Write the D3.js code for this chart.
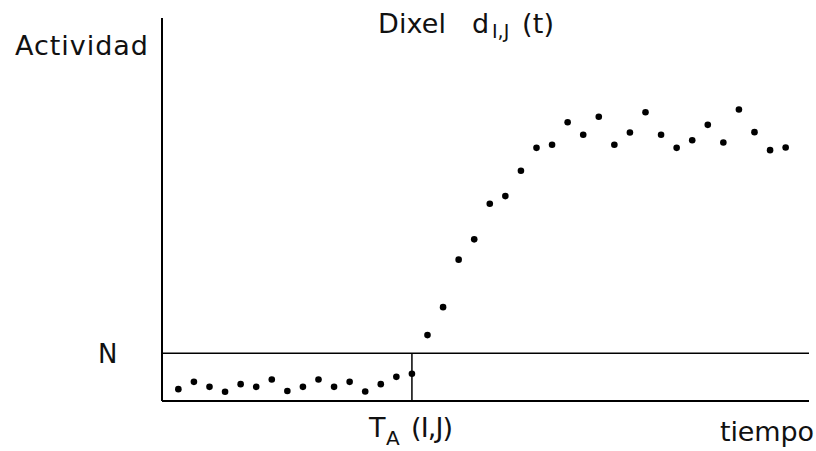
<!DOCTYPE html>
<html lang="es">
  <head>
    <meta charset="UTF-8" />
    <title>Dixel d(t)</title>
    <script src="https://cdnjs.cloudflare.com/ajax/libs/d3/7.8.5/d3.min.js"></script>
    <style>
      body { margin: 0; background: #fff; }
      text { font-family: "DejaVu Sans", "Liberation Sans", sans-serif; fill: #111; }
    </style>
  </head>
  <body>
    <div id="chart"></div>

    <script type="text/javascript">
      // activity per time step
      var tiempo = d3.range(40);
      var actividad = [
        3.1, 5.0, 3.7, 2.4, 4.4, 3.7, 5.6, 2.6, 3.7, 5.6, 3.7, 5.0, 2.5, 4.4, 6.3, 7.1,
        17.2, 24.5, 36.9, 42.2, 51.5, 53.5, 60.1, 66.1, 66.9, 72.8, 69.5, 74.2,
        66.9, 70.1, 75.4, 69.5, 66.1, 68.1, 72.1, 67.5, 76.1, 70.2, 65.5, 66.2
      ];
      var umbralN = 12.5; // N
      var tA = 15; // T_A(I,J)

      var width = 816, height = 451;
      var svg = d3.select("#chart").append("svg")
        .attr("width", width)
        .attr("height", height);

      var x = d3.scaleLinear().domain([-1.05, 40.5]).range([162, 809]);
      var y = d3.scaleLinear().domain([0, 100]).range([401, 18]);

      /* axes: plain lines, no ticks */
      svg.append("line")
        .attr("x1", x(-1.05)).attr("x2", x(-1.05))
        .attr("y1", y(100)).attr("y2", y(0))
        .style("stroke", "#000").style("stroke-width", 2);
      svg.append("line")
        .attr("x1", x(-1.05)).attr("x2", x(40.5))
        .attr("y1", y(0)).attr("y2", y(0))
        .style("stroke", "#000").style("stroke-width", 2);

      /* threshold N and crossing time */
      svg.append("line")
        .attr("x1", x(-1.05)).attr("x2", x(40.5))
        .attr("y1", y(umbralN)).attr("y2", y(umbralN))
        .style("stroke", "#000").style("stroke-width", 1.5);
      svg.append("line")
        .attr("x1", x(tA)).attr("x2", x(tA))
        .attr("y1", y(umbralN)).attr("y2", y(0))
        .style("stroke", "#000").style("stroke-width", 1.5);

      svg.selectAll("circle")
        .data(tiempo)
        .enter()
        .append("circle")
        .attr("cx", function (d) { return x(d); })
        .attr("cy", function (d) { return y(actividad[d]); })
        .attr("r", 3.3)
        .style("fill", "#000");

      /* labels */
      svg.append("text")
        .attr("x", 15).attr("y", 55)
        .attr("textLength", 133)
        .style("font-size", "27px")
        .text("Actividad");

      svg.append("text")
        .attr("x", 98).attr("y", 363)
        .style("font-size", "26px")
        .text("N");

      var titulo = svg.append("text")
        .attr("x", 378).attr("y", 33)
        .style("font-size", "27px");
      titulo.append("tspan").attr("textLength", 68).text("Dixel");
      titulo.append("tspan").attr("x", 472).text("d");
      titulo.append("tspan").attr("x", 492).attr("dy", 5)
        .style("font-size", "19px").text("I,J");
      titulo.append("tspan").attr("x", 522).attr("dy", -5)
        .attr("textLength", 32).text("(t)");

      var ta = svg.append("text")
        .attr("x", 369).attr("y", 437)
        .style("font-size", "27px");
      ta.append("tspan").text("T");
      ta.append("tspan").attr("x", 386).attr("dy", 8)
        .style("font-size", "20px").text("A");
      ta.append("tspan").attr("x", 411).attr("dy", -8)
        .attr("textLength", 42).text("(I,J)");

      svg.append("text")
        .attr("x", 720).attr("y", 441)
        .attr("textLength", 94)
        .style("font-size", "27px")
        .text("tiempo");
    </script>
  </body>
</html>
